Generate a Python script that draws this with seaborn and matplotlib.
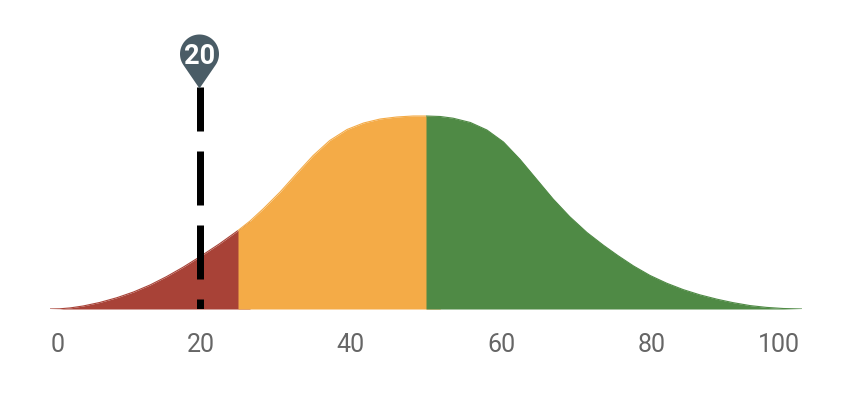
import numpy as np
import pandas as pd
import matplotlib
matplotlib.use("Agg")
import matplotlib.pyplot as plt
from matplotlib.path import Path
from matplotlib.transforms import ScaledTranslation
import seaborn as sns

position = [0, 1.3, 2.7, 4.4, 6.6, 8.9, 11.1, 13.3, 15.5, 17.7, 20, 22.5, 25, 26.6, 28.4, 30.6, 32.8, 35, 37.2,
            39.5, 41.7, 43.9, 46.1, 48.3, 50, 51.9, 53.6, 55.9, 58.1, 60.3, 62.5, 64.7, 66.9, 69.1, 71.4, 73.6,
            75.5, 77.6, 79.8, 82, 84.2, 86.4, 88.7, 90.8, 93.1, 95.3, 97.5, 100]
height = [0, 0.2, 1.1, 3, 6.5, 11.3, 17, 24, 32.4, 41.8, 52.6, 65, 78.5, 88, 100.5, 117, 135.5, 153.5, 168.5,
          179.5, 186, 190, 192, 193, 193, 192.5, 190.8, 186.5, 179, 167, 149.6, 129.8, 110, 92.4, 76.5, 63.7,
          53.5, 43, 33.5, 25.8, 19.4, 14.2, 9.8, 6.4, 3.4, 1.6, 0.5, 0]
band_names = ["low", "mid", "high"]
band_starts = [0, 25, 50]
band_ends = [25, 50, 100]
band_colors = ["#A84237", "#F4AB47", "#4F8A45"]
tick_values = [0, 20, 40, 60, 80, 100]
tick_labels = ["0", "20", "40", "60", "80", "100"]
marker_value = 20
marker_tip = 221

W, H = 856, 418
sns.set_theme(style="white")
plt.rcParams["font.family"] = ["Roboto", "DejaVu Sans"]
fig = plt.figure(figsize=(W / 100, H / 100), dpi=100, facecolor="white")
ax = fig.add_axes([50 / W, 1 - 309 / H, 752 / W, 309 / H])

df = pd.DataFrame({"x": position, "y": height})
for name, a, b, c in zip(band_names, band_starts, band_ends, band_colors):
    part = df[(df.x >= a) & (df.x <= b)]
    # the fill runs one reading past the band's end, under the next band, so no seam shows at the boundary
    under = pd.concat([part, df[df.x > b].head(1)])
    ax.fill_between(under.x, 0, under.y, color=c, lw=0, zorder=1 + a / 100)
    sns.lineplot(data=part, x="x", y="y", color=c, lw=0.8, ax=ax, legend=False,
                 estimator=None, sort=False, solid_capstyle="butt", zorder=2)

# dashes run from the pin tip down to the baseline
ax.plot([marker_value, marker_value], [marker_tip + 1, 0], color="black", lw=5.04,
        linestyle=(10 / 7, (54 / 7, 20 / 7)), dash_capstyle="butt", zorder=3)

# pin outline: tip at the origin, round head above it (outline units are pixels)
r, cy, shift = 19.5, 34.5, -1.0
t0 = np.arcsin(r / cy)
th = np.linspace(-t0, np.pi + t0, 90)
vx = np.r_[0, r * np.cos(th), 0] + shift
vy = np.r_[0, cy + r * np.sin(th), 0]
pin = Path(np.c_[vx, vy], closed=True)
extent = np.abs(np.c_[vx, vy]).max()
size_pt = 2 * extent * 0.72
ax.scatter([marker_value], [marker_tip], marker=pin, s=size_pt ** 2, color="#4A5C66", lw=0, zorder=4, clip_on=False)
ax.text(marker_value - 0.13, marker_tip + cy, str(marker_value), color="white", fontsize=19.5, fontweight="bold",
        ha="center", va="center_baseline", zorder=5)

ax.set_xlim(0, 100)
ax.set_ylim(0, 309)
ax.set_yticks([])
ax.set_xticks(tick_values)
ax.set_xticklabels(tick_labels, color="#666666", fontsize=18)
ax.tick_params(axis="x", length=0, pad=17)
labels = ax.get_xticklabels()
labels[0].set_ha("left")
labels[0].set_transform(labels[0].get_transform() + ScaledTranslation(0.5 / 100, 0, fig.dpi_scale_trans))
labels[-1].set_ha("right")
labels[-1].set_transform(labels[-1].get_transform() + ScaledTranslation(-2 / 100, 0, fig.dpi_scale_trans))
ax.set_xlabel("")
ax.set_ylabel("")
ax.patch.set_alpha(0)
sns.despine(ax=ax, left=True, bottom=True)
fig.savefig("out.png", dpi=100, facecolor="white")
